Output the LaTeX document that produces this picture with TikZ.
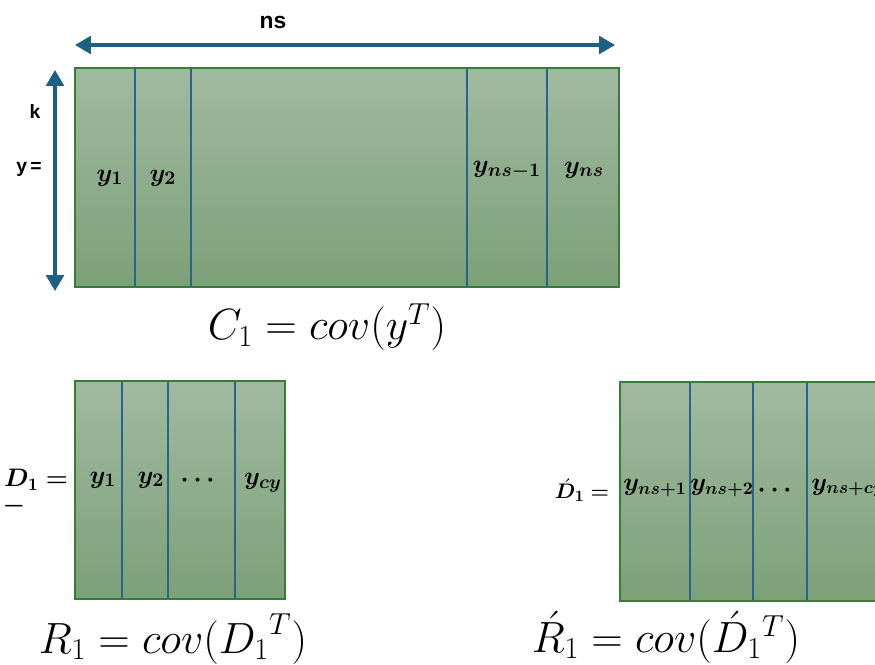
\documentclass[tikz,border=0pt]{standalone}
\usepackage{amsmath}
\usepackage{bm}
\usepackage{fontspec}
\setsansfont{Liberation Sans}
\usetikzlibrary{arrows.meta}

\definecolor{boxtop}{RGB}{160,186,160}
\definecolor{boxbot}{RGB}{124,160,120}
\definecolor{boxedge}{RGB}{56,124,56}
\definecolor{colblue}{RGB}{40,100,140}
\definecolor{arrowblue}{RGB}{28,96,130}

\tikzset{
  matbox/.style={draw=boxedge, line width=0.9pt, top color=boxtop, bottom color=boxbot},
  colline/.style={draw=colblue, line width=0.8pt},
  dimarrow/.style={draw=arrowblue, line width=1.8pt, {Triangle[length=9pt,width=10pt]}-{Triangle[length=9pt,width=10pt]}},
  sflabel/.style={font=\sffamily\bfseries\fontsize{11}{13}\selectfont, inner sep=0pt},
  collabel/.style={font=\fontsize{15}{17}\selectfont, inner sep=0pt},
  smalllabel/.style={font=\fontsize{14}{16}\selectfont, inner sep=0pt},
  formula/.style={font=\fontsize{24}{28}\selectfont, inner sep=0pt}
}

\begin{document}
\begin{tikzpicture}[x=0.02cm, y=-0.02cm]
  \clip (0,0) rectangle (875,664);
  \fill[white] (0,0) rectangle (875,664);

  % top matrix
  \draw[matbox] (75,68) rectangle (619,287);
  \foreach \x in {135,191,467,547}
    \draw[colline] (\x,69) -- (\x,286);
  \node[collabel] (ya) at (110,178) {$\bm{y_1}$};
  \node[collabel] (yb) at (163,178) {$\bm{y_2}$};
  \node[collabel] (yc) at (507,170) {$\bm{y_{ns-1}}$};
  \node[collabel] (yd) at (584,170) {$\bm{y_{ns}}$};

  \coordinate (nsL) at (75,45);
  \coordinate (nsR) at (615,45);
  \draw[dimarrow] (nsL) -- (nsR);
  \node[sflabel, font=\sffamily\bfseries\fontsize{13}{15}\selectfont] (ns) at (273,22) {ns};

  \coordinate (kT) at (55,70);
  \coordinate (kB) at (55,291);
  \draw[dimarrow] (kT) -- (kB);
  \node[sflabel] (k) at (35,111) {k};
  \node[sflabel] (yeq) at (29,169) {y\,=};

  \node[formula, font=\fontsize{26}{30}\selectfont] (C1) at (327,327) {$C_1 = cov(y^T)$};

  % bottom left matrix
  \draw[matbox] (75,381) rectangle (285,599);
  \foreach \x in {122,168,235}
    \draw[colline] (\x,382) -- (\x,598);
  \node[collabel] (da) at (103,480) {$\bm{y_1}$};
  \node[collabel] (db) at (151,480) {$\bm{y_2}$};
  \node[collabel] (dc) at (200,480) {$\bm{\cdots}$};
  \node[collabel] (dd) at (263,483) {$\bm{y_{cy}}$};
  \node[smalllabel] (D1) at (36,480) {$\bm{D_1 =}$};
  \node[smalllabel] (D1bar) at (14,506) {$\bm{-}$};

  \node[formula] (R1) at (173,639) {$R_1 = cov({D_1}^T)$};

  % bottom right matrix
  \draw[matbox] (620,382) rectangle (900,601);
  \foreach \x in {690,753,807}
    \draw[colline] (\x,383) -- (\x,600);
  \node[smalllabel] (ea) at (655,488) {$\bm{y_{ns+1}}$};
  \node[smalllabel] (eb) at (722,488) {$\bm{y_{ns+2}}$};
  \node[smalllabel] (ec) at (777,490) {$\bm{\cdots}$};
  \node[smalllabel, anchor=west] (ed) at (811,488) {$\bm{y_{ns+cy}}$};
  \node[smalllabel, font=\fontsize{13}{15}\selectfont] (D1p) at (582,490) {$\bm{\acute{D}_1 =}$};

  \node[formula] (R1p) at (666,637) {$\acute{R}_1 = cov(\acute{D}_1{}^T)$};
\end{tikzpicture}
\end{document}
